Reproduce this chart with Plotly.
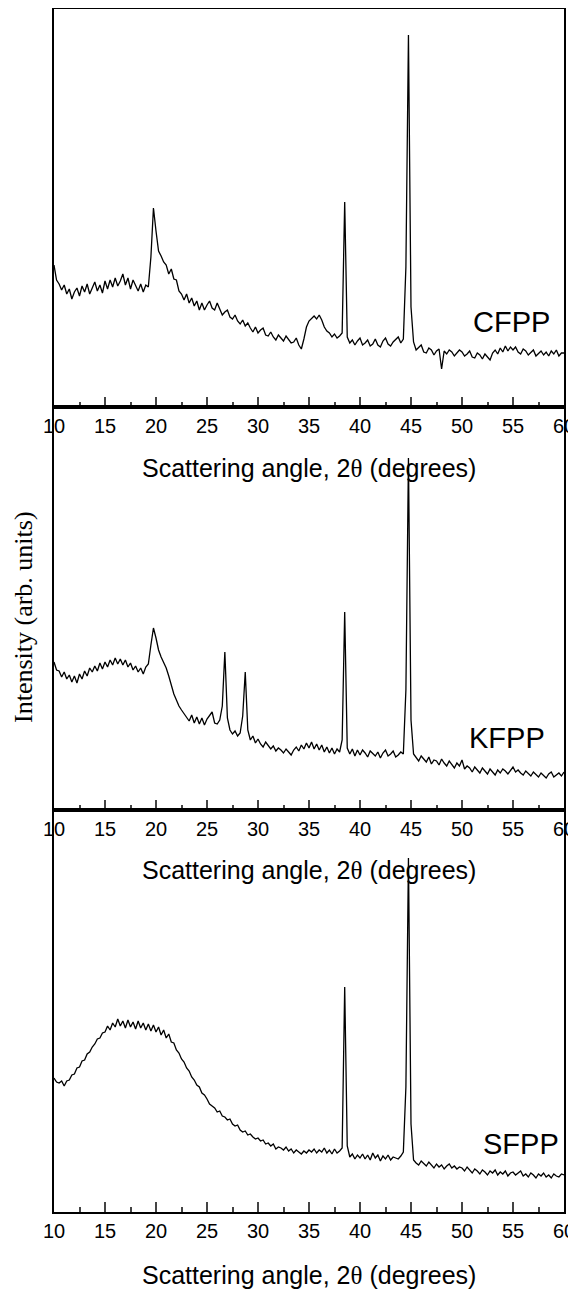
import numpy as np
import plotly.graph_objects as go

# page is 576x1293, the html body adds an 8px margin round the figure
PAGE_W, PAGE_H, PAD = 576, 1293, 8
W, H = PAGE_W - PAD, PAGE_H - PAD

# 2-theta sampling grid (degrees), 0.25 deg steps from 10 to 60
two_theta = np.linspace(10, 60, 201)

# intensities (arb. units), one row per 5 degrees
cfpp = [
    142, 127, 123, 117, 122, 113, 118, 108, 115, 119, 111, 121, 115, 123, 113, 120, 125, 116, 122, 114,
    126, 118, 127, 120, 129, 121, 126, 133, 122, 129, 118, 127, 121, 116, 123, 115, 122, 120, 150, 199,
    176, 156, 151, 145, 142, 133, 138, 128, 127, 116, 113, 107, 113, 104, 109, 101, 106, 97, 104, 97,
    102, 106, 99, 97, 104, 98, 92, 95, 97, 90, 88, 92, 86, 83, 87, 81, 84, 79, 75, 80,
    74, 77, 79, 72, 71, 75, 70, 67, 72, 69, 66, 71, 68, 64, 65, 69, 62, 58, 68, 80,
    86, 89, 91, 88, 92, 87, 80, 76, 74, 70, 73, 69, 71, 74, 205, 70, 64, 67, 62, 66,
    69, 62, 64, 67, 61, 63, 68, 62, 60, 66, 69, 63, 61, 65, 68, 70, 64, 68, 140, 372,
    100, 65, 57, 60, 62, 55, 54, 59, 57, 52, 56, 58, 38, 56, 53, 57, 55, 51, 54, 57,
    55, 51, 53, 56, 50, 49, 54, 52, 48, 53, 50, 47, 54, 57, 53, 59, 55, 61, 56, 60,
    57, 60, 55, 53, 58, 56, 52, 55, 57, 51, 54, 56, 52, 55, 51, 56, 53, 57, 51, 54,
    54,
]

kfpp = [
    148, 140, 139, 133, 138, 131, 135, 128, 134, 127, 136, 131, 139, 134, 142, 138, 144, 139, 147, 141,
    148, 143, 150, 145, 152, 146, 151, 145, 150, 143, 147, 140, 144, 138, 142, 136, 143, 146, 165, 182,
    172, 160, 153, 147, 142, 134, 124, 116, 110, 104, 100, 96, 93, 89, 95, 87, 93, 86, 92, 85,
    91, 95, 98, 87, 86, 90, 104, 158, 92, 80, 76, 79, 74, 77, 94, 138, 80, 70, 74, 67,
    71, 66, 63, 68, 65, 61, 64, 59, 62, 60, 57, 61, 58, 55, 60, 63, 59, 65, 61, 67,
    62, 68, 61, 66, 60, 65, 58, 63, 57, 62, 56, 61, 58, 70, 198, 62, 56, 61, 54, 60,
    55, 60, 57, 53, 59, 56, 54, 58, 52, 57, 60, 54, 56, 59, 53, 55, 58, 56, 120, 352,
    90, 56, 53, 49, 54, 51, 48, 53, 46, 50, 49, 45, 51, 47, 44, 49, 46, 42, 47, 44,
    50, 41, 44, 42, 38, 43, 40, 37, 42, 39, 36, 41, 38, 35, 40, 37, 41, 39, 36, 40,
    43, 38, 40, 37, 35, 39, 36, 34, 38, 35, 33, 37, 34, 32, 36, 38, 33, 35, 37, 34,
    38,
]

sfpp = [
    134, 130, 129, 131, 126, 131, 132, 137, 138, 144, 145, 151, 152, 158, 160, 165, 168, 173, 174, 179,
    180, 186, 182, 189, 185, 193, 186, 191, 184, 192, 185, 190, 183, 191, 184, 189, 182, 188, 181, 187,
    180, 185, 177, 182, 174, 178, 170, 169, 162, 159, 153, 150, 144, 141, 135, 132, 127, 125, 119, 117,
    113, 108, 106, 104, 100, 101, 96, 95, 92, 93, 88, 86, 87, 82, 80, 81, 77, 78, 75, 73,
    74, 71, 72, 68, 69, 66, 68, 63, 65, 64, 62, 65, 61, 63, 59, 62, 60, 58, 61, 59,
    62, 60, 63, 59, 62, 60, 64, 59, 62, 58, 63, 59, 61, 64, 225, 66, 55, 58, 53, 57,
    54, 58, 53, 57, 52, 59, 54, 57, 51, 56, 53, 57, 52, 55, 54, 53, 56, 60, 125, 354,
    88, 52, 49, 47, 51, 48, 46, 50, 47, 44, 48, 45, 47, 43, 46, 48, 44, 46, 43, 45,
    44, 41, 45, 42, 39, 43, 41, 38, 42, 40, 37, 41, 39, 42, 37, 40, 38, 41, 36, 39,
    40, 37, 39, 41, 36, 38, 35, 39, 37, 34, 38, 36, 39, 35, 37, 34, 38, 36, 35, 38,
    37,
]

samples = ["CFPP", "KFPP", "SFPP"]
x_ticks = [10, 15, 20, 25, 30, 35, 40, 45, 50, 55, 60]

# layout in page pixels: panel boxes (top, bottom), label and title rows
panels = [(9, 407), (407, 810), (810, 1212)]
label_xy = [(511, 322), (507, 738), (521, 1144)]
title_y = [468, 870, 1275]
x_left, x_right = 54, 564


def px(x):
    return (x - PAD) / W


def py(y):
    return 1 - (y - PAD) / H


sans = "Liberation Sans, Arial, sans-serif"
serif = "Liberation Serif, Times New Roman, serif"
x_title = "Scattering angle, 2<span style='font-family:Liberation Serif'>θ</span> (degrees)"

fig = go.Figure()

for i, (name, vals) in enumerate(zip(samples, [cfpp, kfpp, sfpp])):
    n = "" if i == 0 else str(i + 1)
    fig.add_trace(go.Scatter(x=two_theta, y=vals, mode="lines", xaxis="x" + n, yaxis="y" + n,
                             line=dict(color="black", width=1.3), showlegend=False))
    top, bot = panels[i]
    fig.update_layout({
        "xaxis" + n: dict(domain=[px(x_left), px(x_right)], anchor="y" + n, range=[10, 60],
                          tickvals=x_ticks, ticks="inside", ticklen=10, tickwidth=1.5,
                          minor=dict(dtick=2.5, tick0=10, ticks="inside", ticklen=5, tickwidth=1.5),
                          showline=True, mirror=True, linecolor="black", linewidth=1.5,
                          showgrid=False, zeroline=False, automargin=False,
                          tickfont=dict(family=sans, size=20, color="black")),
        "yaxis" + n: dict(domain=[py(bot), py(top)], anchor="x" + n, range=[0, bot - top],
                          showticklabels=False, ticks="", showline=True, mirror=True,
                          linecolor="black", linewidth=1.5, showgrid=False, zeroline=False,
                          automargin=False),
    })
    lx, ly = label_xy[i]
    fig.add_annotation(x=px(lx), y=py(ly), xref="paper", yref="paper",
                       xanchor="center", yanchor="middle",
                       text=name, showarrow=False, font=dict(family=sans, size=29, color="black"))
    fig.add_annotation(x=px((x_left + x_right) / 2), y=py(title_y[i]), xref="paper", yref="paper",
                       xanchor="center", yanchor="middle",
                       text=x_title, showarrow=False,
                       font=dict(family=sans, size=25, color="black"))

fig.add_annotation(x=px(23), y=py(617), xref="paper", yref="paper",
                   xanchor="center", yanchor="middle",
                   text="Intensity (arb. units)", textangle=-90, showarrow=False,
                   font=dict(family=serif, size=26, color="black"))

fig.update_layout(width=W, height=H, margin=dict(l=0, r=0, t=0, b=0),
                  paper_bgcolor="white", plot_bgcolor="white")

fig.write_html("out.html")
